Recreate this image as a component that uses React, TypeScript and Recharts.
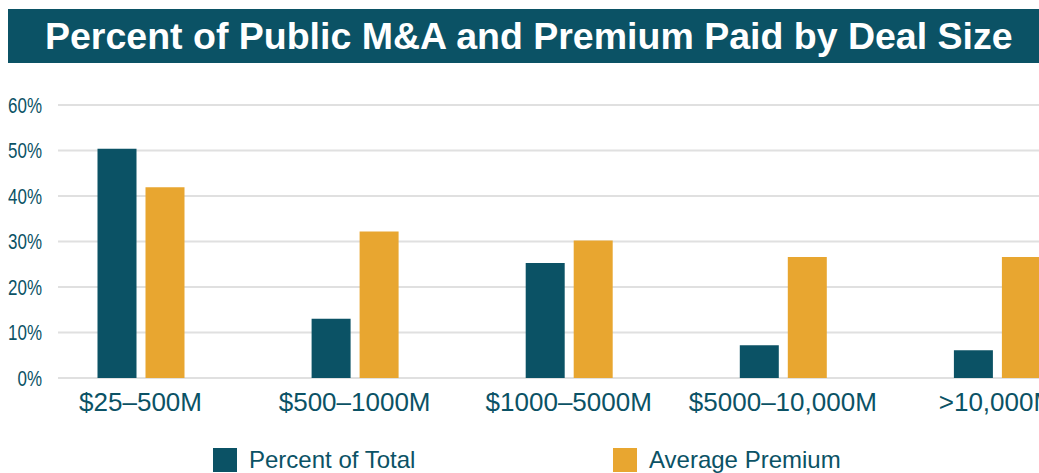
import { BarChart, Bar, XAxis, YAxis, CartesianGrid, Legend } from "recharts";

const categories = ["$25–500M", "$500–1000M", "$1000–5000M", "$5000–10,000M", ">10,000M"];
const percentOfTotal = [50.4, 13.0, 25.3, 7.2, 6.1];
const averagePremium = [41.9, 32.2, 30.2, 26.6, 26.6];
const yTicks = [0, 10, 20, 30, 40, 50, 60];

const TEAL = "#0b5265";
const ORANGE = "#e8a630";
const FONT = "'Liberation Sans', Arial, sans-serif";

const data = categories.map((name, i) => ({
  name,
  pct: percentOfTotal[i],
  premium: averagePremium[i],
}));

const legendItems = [
  { label: "Percent of Total", color: TEAL, left: 205 },
  { label: "Average Premium", color: ORANGE, left: 605 },
];

function LegendContent() {
  return (
    <div style={{ position: "relative", width: 1031, height: 26 }}>
      {legendItems.map((item) => (
        <div
          key={item.label}
          style={{ position: "absolute", left: item.left, top: 0, display: "flex", alignItems: "center" }}
        >
          <span style={{ width: 24, height: 24, background: item.color, display: "inline-block" }} />
          <span style={{ marginLeft: 12, fontSize: 24, color: TEAL, fontFamily: FONT, lineHeight: "24px" }}>
            {item.label}
          </span>
        </div>
      ))}
    </div>
  );
}

// narrow-looking y labels: regular sans squeezed horizontally
function YTick(props: any) {
  const { x, y, payload } = props;
  return (
    <g transform={`translate(${x},${y}) scale(0.77,1)`}>
      <text x={0} y={0} dy="0.355em" textAnchor="end" fontSize={22} fill={TEAL} fontFamily={FONT}>
        {`${payload.value}%`}
      </text>
    </g>
  );
}

export default function App() {
  return (
    <div style={{ position: "absolute", left: 8, top: 8, width: 1100, height: 465, fontFamily: FONT }}>
      <style>{`html{overflow:hidden}`}</style>
      <div
        style={{
          marginTop: 1,
          height: 54,
          width: 1100,
          background: TEAL,
          color: "#fff",
          fontWeight: "bold",
          fontSize: 37.5,
          lineHeight: "54px",
          paddingLeft: 37,
          boxSizing: "border-box",
          whiteSpace: "nowrap",
        }}
      >
        Percent of Public M&amp;A and Premium Paid by Deal Size
      </div>
      <BarChart
        width={1096}
        height={410}
        data={data}
        margin={{ top: 42, right: 0, left: 0, bottom: 65 }}
        barSize={39}
        barGap={9}
      >
        <CartesianGrid vertical={false} stroke="#e0e0e0" strokeWidth={2} />
        <XAxis
          dataKey="name"
          axisLine={false}
          tickLine={false}
          tickMargin={9}
          height={30}
          interval={0}
          padding={{ left: -24.5, right: 0 }}
          tick={{ fontSize: 26, fill: TEAL, fontFamily: FONT }}
        />
        <YAxis
          width={50}
          domain={[0, 60]}
          ticks={yTicks}
          axisLine={false}
          tickLine={false}
          tickMargin={10}
          tick={<YTick />}
        />
        <Legend
          layout="horizontal"
          verticalAlign="middle"
          align="center"
          wrapperStyle={{ top: 385, left: 0, width: 1031 }}
          content={() => <LegendContent />}
        />
        <Bar dataKey="pct" name="Percent of Total" fill={TEAL} isAnimationActive={false} />
        <Bar dataKey="premium" name="Average Premium" fill={ORANGE} isAnimationActive={false} />
      </BarChart>
    </div>
  );
}
